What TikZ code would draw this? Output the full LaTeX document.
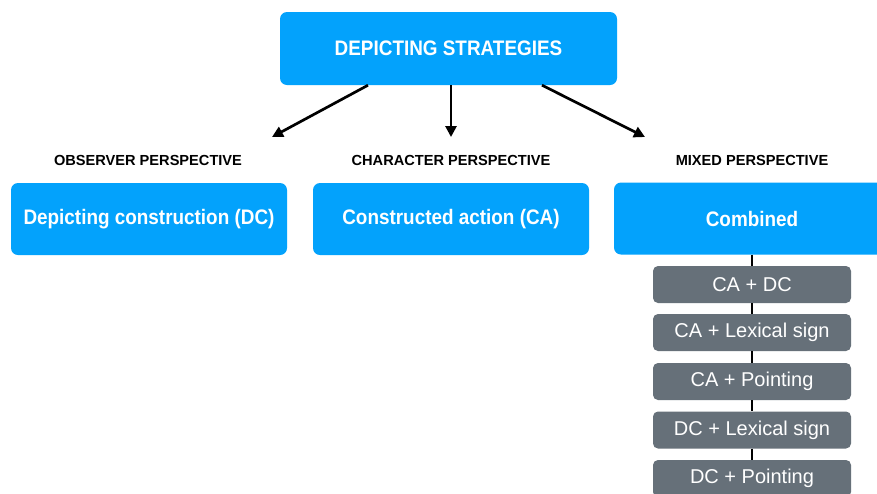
\documentclass[tikz,border=0pt]{standalone}
\usepackage{fontspec}
\setmainfont{Liberation Sans}
\newfontfamily\narrowbold[FakeStretch=0.9]{Liberation Sans Bold}
\usetikzlibrary{arrows.meta,positioning}
\definecolor{boxblue}{HTML}{03A2FC}
\definecolor{boxgray}{HTML}{667079}
\tikzset{
  bluebox/.style={fill=boxblue, rounded corners=7pt, text=white, font=\narrowbold\fontsize{21}{24}\selectfont, minimum width=276pt, minimum height=72pt, inner sep=0pt},
  topbox/.style={bluebox, minimum width=337pt, minimum height=73pt},
  graybox/.style={fill=boxgray, rounded corners=5pt, text=white, font=\fontsize{20}{24}\selectfont, minimum width=198pt, minimum height=37pt, inner sep=0pt},
  perspective/.style={font=\bfseries\fontsize{14.6}{16}\selectfont, text=black, inner sep=0pt},
  arr/.style={line width=2.7pt, -{Triangle[length=11pt,width=11pt]}},
  link/.style={line width=2.7pt}
}
\begin{document}
\begin{tikzpicture}[x=1pt,y=-1pt]
\clip (0,0) rectangle (877,493);
\fill[white] (0,0) rectangle (877,493);
% root
\node[topbox] (top) at (448.5,48.5) {DEPICTING STRATEGIES};
% perspective headings
\node[perspective] (obs) at (148,160) {OBSERVER PERSPECTIVE};
\node[perspective] (chr) at (451,160) {CHARACTER PERSPECTIVE};
\node[perspective] (mix) at (752,160) {MIXED PERSPECTIVE};
% arrow targets
\coordinate (e1) at (272,137);
\coordinate (e2) at (451,137);
\coordinate (e3) at (645,137);
\draw[arr] ([xshift=-80.5pt]top.south) -- (e1);
\draw[arr] ([xshift=2.5pt]top.south) -- (e2);
\draw[arr] ([xshift=93.5pt]top.south) -- (e3);
% strategy boxes
\node[bluebox] (dc) at (149,219) {Depicting construction (DC)};
\node[bluebox] (ca) at (451,219) {Constructed action (CA)};
\node[bluebox] (comb) at (752,218.5) {Combined};
% combinations
\node[graybox] (g1) at (752,284.5) {CA + DC};
\node[graybox] (g2) at (752,332.5) {CA + Lexical sign};
\node[graybox] (g3) at (752,381.5) {CA + Pointing};
\node[graybox] (g4) at (752,430) {DC + Lexical sign};
\node[graybox] (g5) at (752,478.5) {DC + Pointing};
\draw[link] (comb.south) -- (g1.north);
\draw[link] (g1.south) -- (g2.north);
\draw[link] (g2.south) -- (g3.north);
\draw[link] (g3.south) -- (g4.north);
\draw[link] (g4.south) -- (g5.north);
\end{tikzpicture}
\end{document}
